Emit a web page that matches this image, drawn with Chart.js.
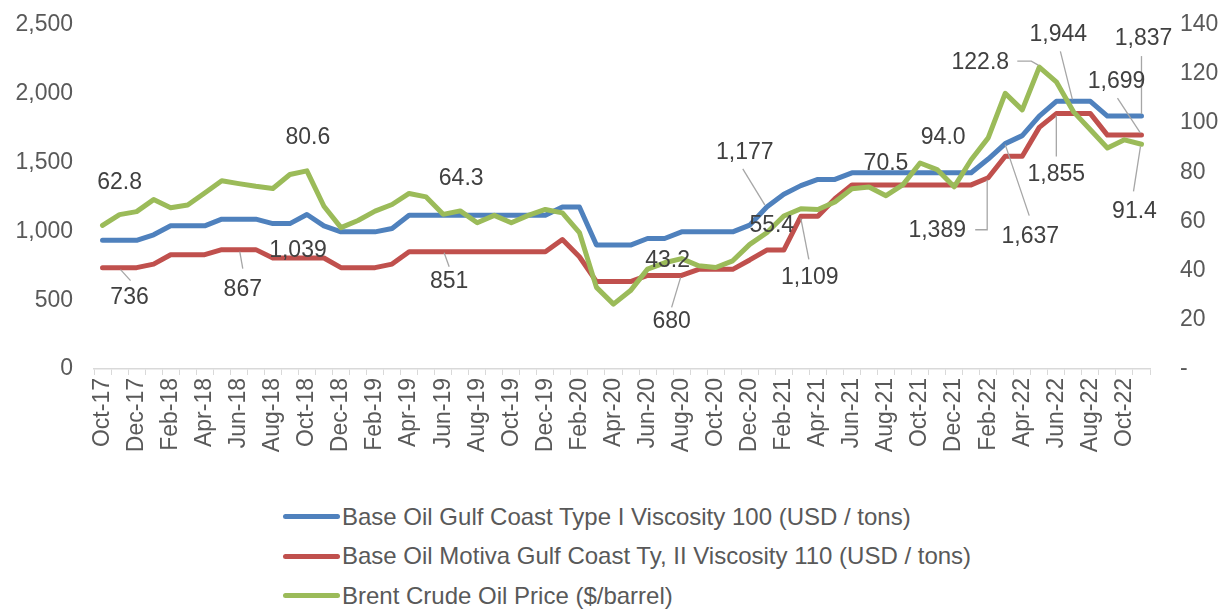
<!DOCTYPE html>
<html>
<head>
<meta charset="utf-8">
<script src="https://cdn.jsdelivr.net/npm/chart.js@4.4.0/dist/chart.umd.min.js"></script>
<style>
  body { margin: 0; background: #fff; font-family: "Liberation Sans", Arial, sans-serif; overflow: hidden; }
  #wrap { position: relative; width: 1221px; height: 613px; overflow: hidden; }
  #chart { position: absolute; left: 0; top: -19px; }
  #legend { position: absolute; left: 283px; top: 497px; }
  .item { display: flex; align-items: center; height: 39.5px; font-size: 24px; color: #595959; white-space: nowrap; }
  .swatch { width: 57px; height: 5px; border-radius: 3px; margin-right: 2px; }
</style>
</head>
<body>
<div id="wrap">
  <canvas id="chart" width="1221" height="489"></canvas>
  <div id="legend"></div>
</div>
<script>
const months = [
  "Oct-17","Nov-17","Dec-17","Jan-18","Feb-18","Mar-18","Apr-18","May-18","Jun-18","Jul-18","Aug-18","Sep-18",
  "Oct-18","Nov-18","Dec-18","Jan-19","Feb-19","Mar-19","Apr-19","May-19","Jun-19","Jul-19","Aug-19","Sep-19",
  "Oct-19","Nov-19","Dec-19","Jan-20","Feb-20","Mar-20","Apr-20","May-20","Jun-20","Jul-20","Aug-20","Sep-20",
  "Oct-20","Nov-20","Dec-20","Jan-21","Feb-21","Mar-21","Apr-21","May-21","Jun-21","Jul-21","Aug-21","Sep-21",
  "Oct-21","Nov-21","Dec-21","Jan-22","Feb-22","Mar-22","Apr-22","May-22","Jun-22","Jul-22","Aug-22","Sep-22",
  "Oct-22","Nov-22"
];

// Base Oil Gulf Coast Type I Viscosity 100 (USD / tons)
const typeOne = [
  935, 935, 935, 975, 1040, 1040, 1040, 1088, 1088, 1088, 1056, 1056,
  1122, 1039, 996, 996, 996, 1020, 1117, 1117, 1117, 1117, 1117, 1117,
  1117, 1117, 1117, 1177, 1177, 900, 900, 900, 948, 948, 996, 996,
  996, 996, 1045, 1177, 1270, 1332, 1377, 1377, 1425, 1425, 1425, 1425,
  1425, 1425, 1425, 1425, 1525, 1637, 1695, 1837, 1944, 1944, 1944, 1837,
  1837, 1837
];

// Base Oil Motiva Gulf Coast Ty, II Viscosity 110 (USD / tons)
const typeTwo = [
  736, 736, 736, 762, 830, 830, 830, 867, 867, 867, 806, 806,
  806, 806, 736, 736, 736, 762, 851, 851, 851, 851, 851, 851,
  851, 851, 851, 940, 815, 635, 635, 635, 680, 680, 680, 724,
  724, 724, 792, 864, 864, 1109, 1109, 1237, 1337, 1337, 1337, 1337,
  1337, 1337, 1337, 1337, 1389, 1545, 1545, 1755, 1855, 1855, 1855, 1699,
  1699, 1699
];

// Brent Crude Oil Price ($/barrel)
const brent = [
  58.4, 62.8, 64.0, 68.9, 65.6, 66.7, 71.6, 76.6, 75.4, 74.3, 73.4, 79.1,
  80.6, 66.2, 57.5, 60.4, 64.2, 66.9, 71.4, 70.0, 62.9, 64.3, 59.5, 62.5,
  59.5, 62.5, 64.9, 63.5, 55.5, 33.2, 26.4, 31.9, 40.6, 43.2, 44.9, 42.0,
  41.3, 44.0, 50.7, 55.4, 62.2, 65.2, 64.9, 67.9, 73.3, 74.0, 70.5, 75.0,
  83.8, 81.1, 74.1, 85.1, 94.0, 112.1, 105.4, 122.8, 116.8, 104.7, 97.3, 89.9,
  93.2, 91.4
];

const leftTicks = [0, 500, 1000, 1500, 2000, 2500];
const rightTicks = [0, 20, 40, 60, 80, 100, 120, 140];

const seriesNames = [
  "Base Oil Gulf Coast Type I Viscosity 100 (USD / tons)",
  "Base Oil Motiva Gulf Coast Ty, II Viscosity 110 (USD / tons)",
  "Brent Crude Oil Price ($/barrel)"
];
const colors = ["#4f81bd", "#c0504d", "#9bbb59"];

// which points carry a value label, and where Excel put the label / leader line
const pointLabels = [
  { ds: 2, i: 1, dx: 0, dy: -32 },
  { ds: 1, i: 1, dx: 10, dy: 30, line: [[1, 2], [11, 13]] },
  { ds: 1, i: 8, dx: 4, dy: 40, line: [[1, 2], [4, 19]] },
  { ds: 0, i: 13, dx: -26, dy: 25 },
  { ds: 2, i: 12, dx: 1, dy: -33 },
  { ds: 2, i: 21, dx: 1, dy: -32 },
  { ds: 1, i: 20, dx: 6, dy: 30, line: [[1, 1], [6, 15]] },
  { ds: 0, i: 39, dx: -22, dy: -54, line: [[-2, -2], [-24, -38]] },
  { ds: 2, i: 39, dx: 5, dy: -7 },
  { ds: 2, i: 33, dx: 3, dy: -2 },
  { ds: 1, i: 34, dx: -10, dy: 46, line: [[-1, 2], [-10, 32]] },
  { ds: 1, i: 41, dx: 9, dy: 61, line: [[0, 2], [8, 43]] },
  { ds: 2, i: 46, dx: 0, dy: -32 },
  { ds: 2, i: 52, dx: -45, dy: 0 },
  { ds: 1, i: 52, dx: -51, dy: 53, line: [[-1, 2], [-1, 52], [-13, 52]] },
  { ds: 0, i: 53, dx: 25, dy: 93, line: [[0, 1], [24, 72]] },
  { ds: 2, i: 55, dx: -59, dy: -4, line: [[-22, -6], [-8, -6], [-1, -2]] },
  { ds: 0, i: 57, dx: -15, dy: -67, line: [[-13, -50], [-1, -2]] },
  { ds: 1, i: 56, dx: 0, dy: 61, line: [[0, 2], [0, 43]] },
  { ds: 0, i: 61, dx: 2, dy: -77, line: [[0, -2], [0, -60]] },
  { ds: 1, i: 61, dx: -25, dy: -53, line: [[-1, -2], [-24, -37]] },
  { ds: 2, i: 61, dx: -7, dy: 67, line: [[-1, 2], [-8, 47]] }
];

const fmt = (v) => v.toLocaleString("en-US");

const labelPlugin = {
  id: "pointLabels",
  afterDatasetsDraw(chart) {
    const ctx = chart.ctx;
    ctx.save();
    ctx.font = '23px "Liberation Sans", Arial, sans-serif';
    ctx.textAlign = "center";
    ctx.textBaseline = "middle";
    pointLabels.forEach((l) => {
      const pt = chart.getDatasetMeta(l.ds).data[l.i];
      const v = chart.data.datasets[l.ds].data[l.i];
      if (l.line) {
        ctx.strokeStyle = "#a6a6a6";
        ctx.lineWidth = 1.3;
        ctx.beginPath();
        l.line.forEach(([dx, dy], k) => {
          if (k === 0) ctx.moveTo(pt.x + dx, pt.y + dy);
          else ctx.lineTo(pt.x + dx, pt.y + dy);
        });
        ctx.stroke();
      }
      ctx.fillStyle = "#404040";
      ctx.fillText(l.ds === 2 ? v.toFixed(1) : fmt(v), pt.x + l.dx, pt.y + l.dy);
    });
    ctx.restore();
  }
};

const makeSet = (k, data, axis, order) => ({
  label: seriesNames[k],
  data: data,
  yAxisID: axis,
  borderColor: colors[k],
  backgroundColor: colors[k],
  borderWidth: 5,
  borderJoinStyle: "round",
  borderCapStyle: "round",
  pointRadius: 0,
  tension: 0,
  order: order
});

const tickFont = { family: '"Liberation Sans", Arial, sans-serif', size: 23 };

new Chart(document.getElementById("chart"), {
  type: "line",
  data: {
    labels: months,
    datasets: [
      makeSet(0, typeOne, "y", 3),
      makeSet(1, typeTwo, "y1", 2),
      makeSet(2, brent, "y2", 1)
    ]
  },
  options: {
    responsive: false,
    animation: false,
    devicePixelRatio: 1,
    layout: { padding: { top: 12, left: 0, right: 0, bottom: 0 } },
    plugins: { legend: { display: false }, tooltip: { enabled: false } },
    scales: {
      x: {
        offset: true,
        grid: { display: true, drawOnChartArea: false, drawTicks: true, tickLength: 6, color: "#d9d9d9", offset: true },
        border: { color: "#d9d9d9", width: 1.5 },
        ticks: {
          autoSkip: false, minRotation: 90, maxRotation: 90, padding: 3,
          color: "#595959", font: tickFont,
          callback: (v, i) => (i % 2 === 0 ? months[i] : "")
        },
        afterFit: (s) => { s.height = 101; }
      },
      y: {
        position: "left",
        min: leftTicks[0], max: leftTicks[leftTicks.length - 1],
        grid: { display: false, drawTicks: false }, border: { display: false },
        ticks: { stepSize: 500, padding: 21, color: "#595959", font: tickFont, callback: (v) => fmt(v) },
        afterFit: (s) => { s.width = 94; }
      },
      y1: {
        display: false,
        min: leftTicks[0], max: leftTicks[leftTicks.length - 1]
      },
      y2: {
        position: "right",
        min: rightTicks[0], max: rightTicks[rightTicks.length - 1],
        grid: { display: false, drawTicks: false }, border: { display: false },
        ticks: { stepSize: 20, padding: 30, color: "#595959", font: tickFont, callback: (v) => (v === 0 ? "-" : v) },
        afterFit: (s) => { s.width = 71; }
      }
    }
  },
  plugins: [labelPlugin]
});

const legend = document.getElementById("legend");
seriesNames.forEach((name, k) => {
  const row = document.createElement("div");
  row.className = "item";
  row.innerHTML = '<span class="swatch" style="background:' + colors[k] + '"></span><span>' + name + "</span>";
  legend.appendChild(row);
});
</script>
</body>
</html>
